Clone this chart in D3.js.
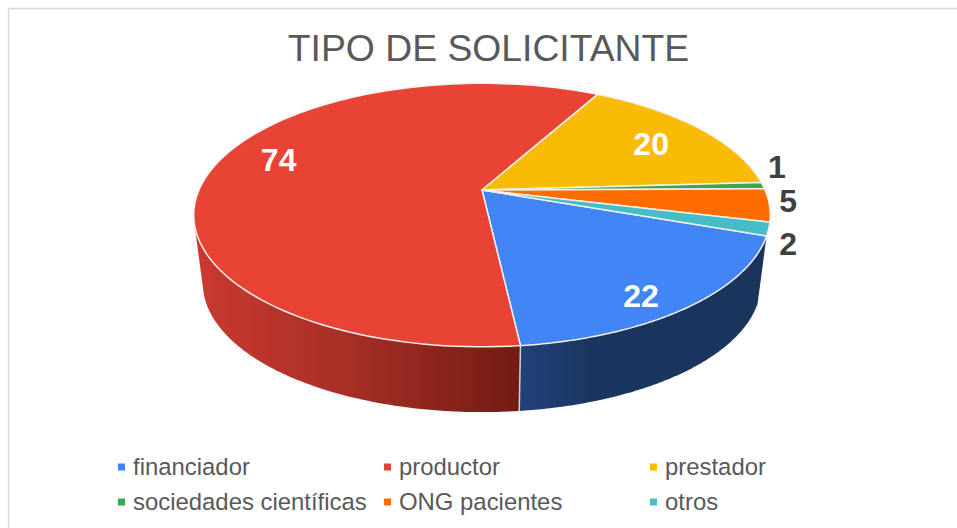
<!DOCTYPE html>
<html><head><meta charset="utf-8">
<script src="https://cdn.jsdelivr.net/npm/d3@7/dist/d3.min.js"></script>
<style>html,body{margin:0;padding:0;background:#fff}svg{display:block}text{font-family:"Liberation Sans",Arial,sans-serif}</style>
</head><body><div id="c"></div>
<script>
const categories=["financiador","productor","prestador","sociedades científicas","ONG pacientes","otros"];
const values=[22,74,20,1,5,2];
const colors=["#4285f4","#e94335","#f9bb04","#34a853","#ff6d01","#46bdc6"];
const titleText="TIPO DE SOLICITANTE";

const W=957,H=528;
const svg=d3.select("#c").append("svg").attr("width",W).attr("height",H);
const defs=svg.append("defs");

// perspective disc geometry
const cx=482,k=0.19;
const top_={cy:190,R:283,S:127};
const bot_={cy:259,R:274,S:124};
function proj(a,r,g){ // a = clockwise from top, r = radial fraction
  const X=Math.sin(a)*r,Y=-Math.cos(a)*r,w=1-k*Y;
  return [cx+g.R*X/w,g.cy+g.S*Y/w];
}
const startAngle=109.8*Math.PI/180;
const arcs=d3.pie().sort(null).startAngle(startAngle).endAngle(startAngle+2*Math.PI)(values);
const samples=(a0,a1)=>d3.range(0,121).map(i=>a0+(a1-a0)*i/120);
const rimPath=(a0,a1,g)=>samples(a0,a1).map(a=>proj(a,1,g));
const line=d3.line();

svg.append("rect").attr("x",8.5).attr("y",8.5).attr("width",W+20).attr("height",H+20)
  .attr("fill","#fff").attr("stroke","#d9d9d9").attr("stroke-width",1.5);

svg.append("text").attr("x",488.5).attr("y",61).attr("text-anchor","middle")
  .attr("font-size",37.3).attr("fill","#595959").text(titleText);

// side wall: silhouette is the hull of the upper and lower rims over each slice's visible span
const wallStops=[
 [[0,"#c9392f"],[0.45,"#a82f26"],[1,"#731c13"]],
 [[0,"#21427c"],[0.3,"#1a355f"],[1,"#1a345e"]]
];
const walls=[
 {i:1,a0:arcs[1].startAngle,a1:Math.PI*1.62,grad:"gRed",s:wallStops[0],x0:200,x1:518},
 {i:0,a0:arcs[0].startAngle,a1:arcs[0].endAngle,grad:"gBlue",s:wallStops[1],x0:518,x1:770}
];
walls.forEach(d=>{
  const g=defs.append("linearGradient").attr("id",d.grad).attr("gradientUnits","userSpaceOnUse")
    .attr("x1",d.x0).attr("x2",d.x1).attr("y1",0).attr("y2",0);
  d.s.forEach(s=>g.append("stop").attr("offset",s[0]).attr("stop-color",s[1]));
});
svg.selectAll("path.wall").data(walls).enter().append("path").attr("class","wall")
  .attr("d",d=>line(d3.polygonHull(rimPath(d.a0,d.a1,top_).concat(rimPath(d.a0,d.a1,bot_))))+"Z")
  .attr("fill",d=>`url(#${d.grad})`);
const seamA=arcs[1].startAngle;
svg.append("path").attr("d",line([proj(seamA,1,top_),proj(seamA,1,bot_)]))
  .attr("stroke","#d9d0cc").attr("stroke-width",1.5).attr("fill","none");

// top surface
svg.selectAll("path.slice").data(arcs).enter().append("path").attr("class","slice")
  .attr("d",d=>line([[cx,top_.cy]].concat(rimPath(d.startAngle,d.endAngle,top_)))+"Z")
  .attr("fill",(d,i)=>colors[i]).attr("stroke","#f4f1ee").attr("stroke-width",1.5).attr("stroke-linejoin","round");

// data labels
const labelR=[0.70,0.76,0.72,1.10,1.07,1.10];
const labelNudge=[[22,28],[2,-12],[9,0],[-14,-18],[-2,-5],[-11,11]];
const labelInside=[true,true,true,false,false,false];
svg.selectAll("text.val").data(arcs).enter().append("text").attr("class","val")
  .attr("text-anchor","middle").attr("dominant-baseline","central")
  .attr("font-size",32).attr("font-weight","bold")
  .attr("fill",(d,i)=>labelInside[i]?"#fff":"#404040")
  .attr("transform",(d,i)=>{const p=proj((d.startAngle+d.endAngle)/2,labelR[i],top_);
    return `translate(${p[0]+labelNudge[i][0]},${p[1]+labelNudge[i][1]})`;})
  .text(d=>d.value);

// legend
const legCol=d3.scalePoint().domain([0,1,2]).range([118,650]);
const legRow=d3.scalePoint().domain([0,1]).range([467,502]);
const leg=svg.selectAll("g.leg").data(categories).enter().append("g").attr("class","leg")
  .attr("transform",(d,i)=>`translate(${legCol(i%3)},${legRow(Math.floor(i/3))})`);
leg.append("rect").attr("x",0).attr("y",-3.5).attr("width",7).attr("height",7).attr("fill",(d,i)=>colors[i]);
leg.append("text").attr("x",15).attr("y",-0.7).attr("dominant-baseline","central").attr("font-size",23.9).attr("fill","#595959").text(d=>d);
</script></body></html>
